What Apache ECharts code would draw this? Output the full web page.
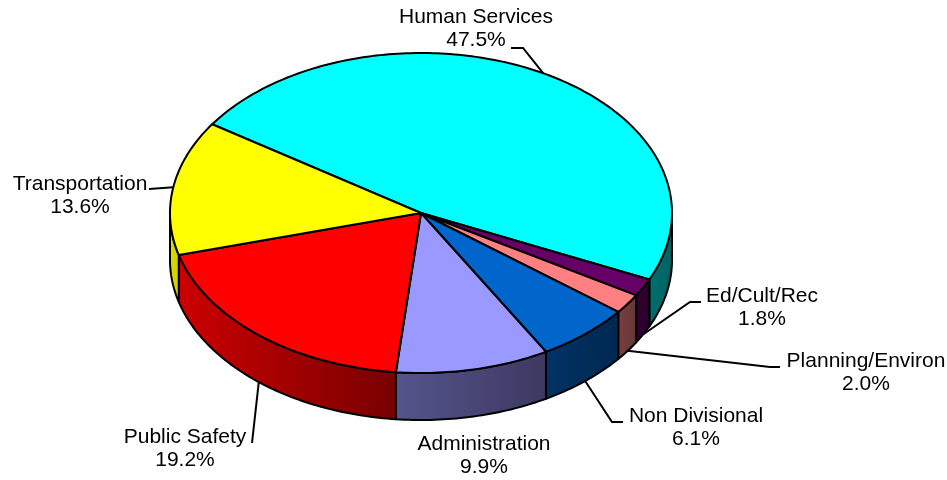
<!DOCTYPE html>
<html>
<head>
<meta charset="utf-8">
<style>html,body{margin:0;padding:0;background:#fff}#c{width:947px;height:480px}</style>
<script src="https://cdn.jsdelivr.net/npm/echarts@6/dist/echarts.min.js"></script>
</head>
<body>
<div id="c"></div>
<script>
const categories = ['Human Services','Ed/Cult/Rec','Planning/Environ','Non Divisional','Administration','Public Safety','Transportation'];
const values = [47.5,1.8,2.0,6.1,9.9,19.2,13.6];
const percentLabels = ['47.5%','1.8%','2.0%','6.1%','9.9%','19.2%','13.6%'];
const topColors = ['#00ffff','#660066','#ff8080','#0066cc','#9999ff','#ff0000','#ffff00'];
const wallColorsLeft = ['#007070','#330033','#7a4040','#003366','#55558c','#cc0000','#dddd00'];
const wallColorsRight = ['#006060','#2a002a','#663636','#002850','#3c3860','#780000','#cccc00'];

// Layout of the tilted pie
const cx = 421, cy = 213, rx = 251, ry = 160, depth = 47, startAngle = 303.7;
// Label centres and the leader-line points after the anchor on the pie edge
const labelCentres = [[476,29],[762,308],[866,373],[696,428],[484,456],[185,449],[80,196]];
const leaderBends = [[[523,48],[511,48]],[[690,302],[701,302]],[[770,367],[780,367]],[[612,422],[623,422]],null,[[252,443]],[[149,189]]];

const total = values.reduce((a,b)=>a+b,0);
let acc = startAngle;
const sliceData = values.map((v,i)=>{const s=acc; acc+=v/total*360; return [s,acc,i];});

function pt(a,dy){const r=a*Math.PI/180; return [cx+rx*Math.sin(r), cy-ry*Math.cos(r)+(dy||0)];}
function arc(a,b,dy){const pts=[],n=Math.max(2,Math.ceil(Math.abs(b-a)));for(let k=0;k<=n;k++)pts.push(pt(a+(b-a)*k/n,dy));return pts;}

const stroke = {stroke:'#000',lineWidth:2,lineJoin:'round'};
function renderWall(params,api){
  const s=api.value(0),e=api.value(1),i=api.value(2);
  const polys=[];
  [[90,270],[450,630]].forEach(([lo,hi])=>{
    const a=Math.max(s,lo),b=Math.min(e,hi);
    if(b>a) polys.push({type:'polygon',shape:{points:arc(a,b,0).concat(arc(b,a,depth))},
      style:Object.assign({fill:{type:'linear',x:0,y:0,x2:1,y2:0,colorStops:[{offset:0,color:wallColorsLeft[i]},{offset:1,color:wallColorsRight[i]}]}},stroke)});
  });
  return {type:'group',children:polys};
}
function renderTop(params,api){
  const s=api.value(0),e=api.value(1),i=api.value(2);
  return {type:'polygon',shape:{points:[[cx,cy]].concat(arc(s,e,0))},style:Object.assign({fill:topColors[i]},stroke)};
}
function renderLabel(params,api){
  const s=api.value(0),e=api.value(1),i=api.value(2);
  const children=[];
  if(leaderBends[i]){
    const m=(s+e)/2, c=Math.cos(m*Math.PI/180);
    children.push({type:'polyline',shape:{points:[pt(m,c<0?depth:0)].concat(leaderBends[i])},style:{fill:null,stroke:'#000',lineWidth:2}});
  }
  children.push({type:'text',style:{x:labelCentres[i][0],y:labelCentres[i][1],text:categories[i]+'\n'+percentLabels[i],
    font:'21px "Liberation Sans", Arial, sans-serif',lineHeight:23,fill:'#000',align:'center',verticalAlign:'middle'}});
  return {type:'group',children};
}
const chart=echarts.init(document.getElementById('c'),null,{renderer:'canvas'});
chart.setOption({
  animation:false,
  backgroundColor:'#fff',
  series:[
    {type:'custom',coordinateSystem:'none',data:sliceData,renderItem:renderWall,z:1,silent:true},
    {type:'custom',coordinateSystem:'none',data:sliceData,renderItem:renderTop,z:2,silent:true},
    {type:'custom',coordinateSystem:'none',data:sliceData,renderItem:renderLabel,z:3,silent:true}
  ]
});
</script>
</body>
</html>
